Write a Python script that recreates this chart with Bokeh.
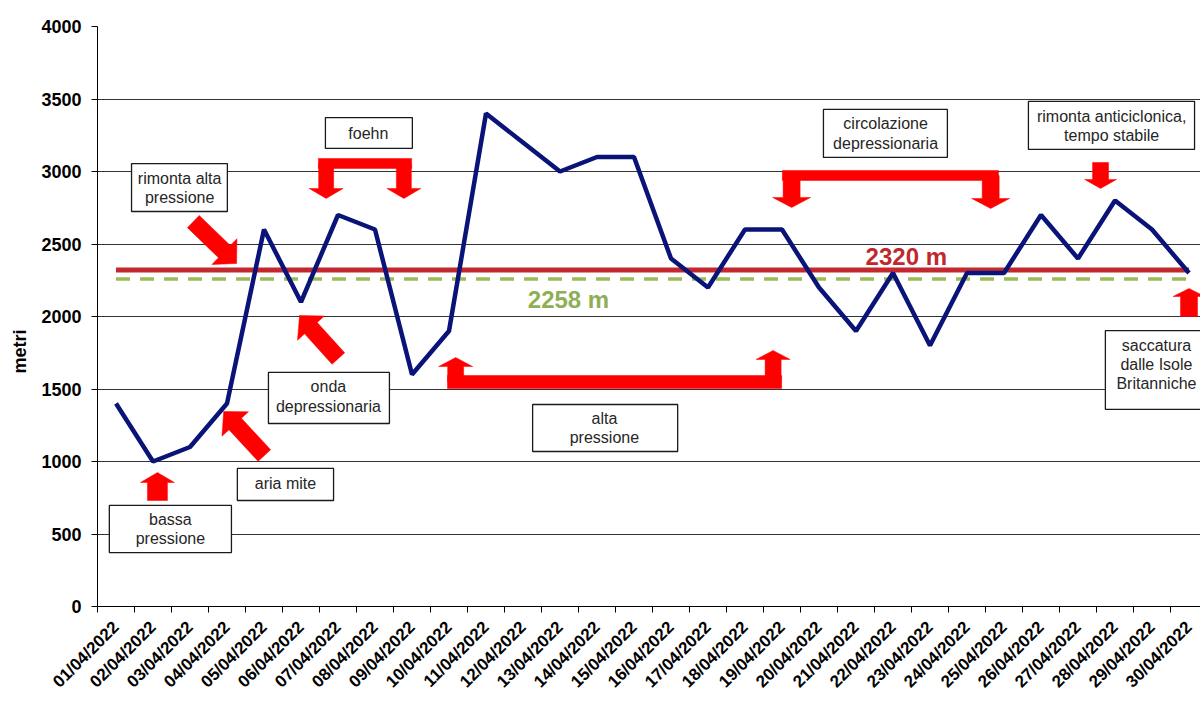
import math
import numpy as np
from bokeh.plotting import figure
from bokeh.models import FixedTicker, Range1d
from bokeh.embed import file_html
from bokeh.resources import INLINE
from bokeh.core.properties import value

# ---------------- data ----------------
date_labels = ["01/04/2022", "02/04/2022", "03/04/2022", "04/04/2022", "05/04/2022",
               "06/04/2022", "07/04/2022", "08/04/2022", "09/04/2022", "10/04/2022",
               "11/04/2022", "12/04/2022", "13/04/2022", "14/04/2022", "15/04/2022",
               "16/04/2022", "17/04/2022", "18/04/2022", "19/04/2022", "20/04/2022",
               "21/04/2022", "22/04/2022", "23/04/2022", "24/04/2022", "25/04/2022",
               "26/04/2022", "27/04/2022", "28/04/2022", "29/04/2022", "30/04/2022"]
quota_zero = [1400, 1000, 1100, 1400, 2600, 2100, 2700, 2600, 1600, 1900,
              3400, 3200, 3000, 3100, 3100, 2400, 2200, 2600, 2600, 2200,
              1900, 2300, 1800, 2300, 2300, 2700, 2400, 2800, 2600, 2300]
media_climatologica = 2258
y_ticks = [0, 500, 1000, 1500, 2000, 2500, 3000, 3500, 4000]

media_mese = int(round(np.mean(quota_zero)))  # 2320
xs = list(range(len(quota_zero)))

# ---------------- layout ----------------
W, H = 1200, 701
B_L, B_R, B_T, B_B = 97, 0, 26, 95
FRAME_W = W - B_L - B_R
FRAME_H = H - B_T - B_B
PX_PER_DAY = 37.0
X_START = -0.5
X_END = X_START + FRAME_W / PX_PER_DAY
Y_START, Y_END = 0, 4000
XS = FRAME_W / (X_END - X_START)
YS = FRAME_H / (Y_END - Y_START)

p = figure(width=W, height=H, x_range=Range1d(X_START, X_END),
           y_range=Range1d(Y_START, Y_END), output_backend="svg",
           toolbar_location=None, min_border_left=B_L, min_border_right=B_R,
           min_border_top=B_T, min_border_bottom=B_B)
p.outline_line_color = None
p.background_fill_color = "white"
p.border_fill_color = "white"

FONT = "Liberation Sans"

# grid
p.xgrid.visible = False
p.ygrid.ticker = FixedTicker(ticks=y_ticks)
p.ygrid.grid_line_color = "#333333"
p.ygrid.grid_line_width = 1

# y axis
ya = p.yaxis[0]
ya.ticker = FixedTicker(ticks=y_ticks)
ya.axis_line_color = "black"
ya.major_tick_line_color = "black"
ya.major_tick_out = 6
ya.major_tick_in = 0
ya.minor_tick_line_color = None
ya.major_label_text_font = FONT
ya.major_label_text_font_style = "bold"
ya.major_label_text_font_size = "18px"
ya.major_label_text_color = "black"
ya.major_label_standoff = 10
ya.axis_label = "metri" + "\u00a0" * 14
ya.axis_label_text_font = FONT
ya.axis_label_text_font_style = "bold"
ya.axis_label_text_font_size = "18px"
ya.axis_label_text_color = "black"
ya.axis_label_standoff = 8

# x axis
xa = p.xaxis[0]
xa.ticker = FixedTicker(ticks=xs, minor_ticks=[i - 0.5 for i in range(len(xs) + 1)])
xa.major_label_overrides = {i: date_labels[i] for i in xs}
xa.major_label_orientation = math.pi / 4
xa.axis_line_color = "black"
xa.major_tick_out = 0
xa.major_tick_in = 0
xa.minor_tick_line_color = "black"
xa.minor_tick_out = 6
xa.minor_tick_in = 0
xa.major_label_text_font = FONT
xa.major_label_text_font_style = "bold"
xa.major_label_text_font_size = "17px"
xa.major_label_text_color = "black"
xa.major_label_standoff = 12

# ---------------- series ----------------
p.line([xs[0], xs[-1]], [media_mese, media_mese], line_color="#C3282E", line_width=5)
p.line([xs[0], xs[-1]], [media_climatologica, media_climatologica],
       line_color="#9BBB59", line_width=3.5, line_dash="14 10")
p.line(xs, quota_zero, line_color="#0A1478", line_width=4.5)

p.text(x=[21.36], y=[2414], text=[f"{media_mese} m"], text_align="center",
       text_baseline="middle", text_font=value(FONT), text_font_style="bold",
       text_font_size="24px", text_color="#C0282D")
p.text(x=[12.23], y=[2117], text=[f"{media_climatologica} m"], text_align="center",
       text_baseline="middle", text_font=value(FONT), text_font_style="bold",
       text_font_size="24px", text_color="#8FAF55")

# ---------------- annotations ----------------
def block_arrow(xt, yt, xh, yh, shaft, head, hlen):
    ax, ay = xt * XS, yt * YS
    bx, by = xh * XS, yh * YS
    dx, dy = bx - ax, by - ay
    L = math.hypot(dx, dy)
    ux, uy = dx / L, dy / L
    nx, ny = -uy, ux
    cx, cy = bx - ux * hlen, by - uy * hlen
    pts = [(ax + nx * shaft / 2, ay + ny * shaft / 2),
           (cx + nx * shaft / 2, cy + ny * shaft / 2),
           (cx + nx * head / 2, cy + ny * head / 2),
           (bx, by),
           (cx - nx * head / 2, cy - ny * head / 2),
           (cx - nx * shaft / 2, cy - ny * shaft / 2),
           (ax - nx * shaft / 2, ay - ny * shaft / 2)]
    return [q[0] / XS for q in pts], [q[1] / YS for q in pts]

arrows = [
    (2.09, 2655, 3.26, 2366, 17, 36, 17),   # rimonta alta pressione
    (6.01, 1710, 4.96, 2007, 17, 36, 17),   # onda depressionaria
    (4.01, 1041, 2.91, 1345, 17, 36, 17),   # aria mite
    (1.12, 731, 1.12, 924, 20, 34, 10),     # bassa pressione
    (5.68, 3055, 5.68, 2814, 15, 34, 10),   # foehn
    (7.78, 3055, 7.78, 2814, 15, 34, 10),
    (9.18, 1548, 9.18, 1717, 16, 34, 9),    # alta pressione
    (17.76, 1548, 17.76, 1766, 16, 34, 9),
    (18.26, 2972, 18.26, 2752, 17, 38, 10), # circolazione depressionaria
    (23.64, 2972, 23.64, 2745, 17, 38, 10),
    (26.61, 3062, 26.61, 2883, 16, 32, 9),  # rimonta anticiclonica
    (29.0, 2000, 29.0, 2193, 17, 32, 8),    # saccatura
]
bars = [  # x0, x1, y0, y1
    (5.47, 7.99, 3021, 3090),
    (8.96, 17.99, 1503, 1593),
    (18.01, 23.85, 2938, 3007),
]
axs, ays = [], []
for a in arrows:
    px_, py_ = block_arrow(*a)
    axs.append(px_)
    ays.append(py_)
p.patches(axs, ays, fill_color="#FF0000", line_color="#FF0000", line_width=0.5)
p.quad(left=[b[0] for b in bars], right=[b[1] for b in bars],
       bottom=[b[2] for b in bars], top=[b[3] for b in bars],
       fill_color="#FF0000", line_color="#FF0000", line_width=0.5)

boxes = [  # x0, x1, y0, y1, cx, lines, line ys
    (0.42, 3.01, 2724, 3055, 1.72, ["rimonta alta", "pressione"], [2952, 2821]),
    (5.66, 8.01, 3159, 3372, 6.82, ["foehn"], [3262]),
    (4.12, 7.39, 1262, 1614, 5.74, ["onda", "depressionaria"], [1517, 1379]),
    (3.28, 5.88, 731, 952, 4.58, ["aria mite"], [848]),
    (-0.18, 3.12, 372, 697, 1.47, ["bassa", "pressione"], [600, 469]),
    (11.26, 15.18, 1069, 1393, 13.20, ["alta", "pressione"], [1297, 1166]),
    (19.12, 22.47, 3097, 3428, 20.80, ["circolazione", "depressionaria"], [3331, 3193]),
    (24.66, 29.15, 3152, 3483, 26.91, ["rimonta anticiclonica,", "tempo stabile"], [3379, 3248]),
    (26.74, 30.5, 1359, 1903, 28.12, ["saccatura", "dalle Isole", "Britanniche"], [1800, 1669, 1538]),
]
p.quad(left=[b[0] for b in boxes], right=[b[1] for b in boxes],
       bottom=[b[2] for b in boxes], top=[b[3] for b in boxes],
       fill_color="white", line_color="#1a1a1a", line_width=1.3)
tx, ty, tt = [], [], []
for b in boxes:
    for line, yy in zip(b[5], b[6]):
        tx.append(b[4])
        ty.append(yy)
        tt.append(line)
p.text(x=tx, y=ty, text=tt, text_align="center", text_baseline="middle",
       text_font=value(FONT), text_font_size="16px", text_color="#262626")

open("out.html", "w").write(file_html(p, INLINE))
